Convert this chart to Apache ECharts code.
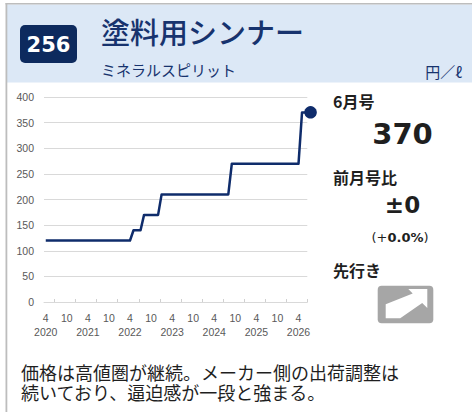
<!DOCTYPE html>
<html><head><meta charset="utf-8">
<script src="https://cdn.jsdelivr.net/npm/echarts@6/dist/echarts.min.js"></script>
<style>html,body{margin:0;padding:0;background:#fff;}#c{width:472px;height:412px;}</style>
</head><body><div id="c"></div>
<script>
// ---- data ----
const months = [
  '2020-04','2020-05','2020-06','2020-07','2020-08','2020-09','2020-10','2020-11','2020-12',
  '2021-01','2021-02','2021-03','2021-04','2021-05','2021-06','2021-07','2021-08','2021-09','2021-10','2021-11','2021-12',
  '2022-01','2022-02','2022-03','2022-04','2022-05','2022-06','2022-07','2022-08','2022-09','2022-10','2022-11','2022-12',
  '2023-01','2023-02','2023-03','2023-04','2023-05','2023-06','2023-07','2023-08','2023-09','2023-10','2023-11','2023-12',
  '2024-01','2024-02','2024-03','2024-04','2024-05','2024-06','2024-07','2024-08','2024-09','2024-10','2024-11','2024-12',
  '2025-01','2025-02','2025-03','2025-04','2025-05','2025-06','2025-07','2025-08','2025-09','2025-10','2025-11','2025-12',
  '2026-01','2026-02','2026-03','2026-04','2026-05','2026-06'
];
const prices = [
  120,120,120,120,120,120,120,120,120,
  120,120,120,120,120,120,120,120,120,120,120,120,
  120,120,120,120,140,140,140,170,170,170,170,170,
  210,210,210,210,210,210,210,210,210,210,210,210,
  210,210,210,210,210,210,210,210,270,270,270,270,
  270,270,270,270,270,270,270,270,270,270,270,270,
  270,270,270,270,370,370
];
const yTicks = [0,50,100,150,200,250,300,350,400];
const labelMonths = ['04','10'];
const tickMonths = ['01','07'];

const title = '塗料用シンナー';
const subtitle = 'ミネラルスピリット';
const badge = '256';
const unit = '円／ℓ';
const issueLabel = '6月号';
const issueValue = '370';
const diffLabel = '前月号比';
const diffValue = '±0';
const diffPctSign = '(+';
const diffPct = '0.0%';
const outlookLabel = '先行き';
const commentLines = ['価格は高値圏が継続。メーカー側の出荷調整は', '続いており、逼迫感が一段と強まる。'];

// ---- chart ----
const NAVY = '#0f2c6b';
const TXT = '#1f1f1f';
const CJK = '"Noto Sans CJK JP","Noto Sans",sans-serif';
const chart = echarts.init(document.getElementById('c'), null, {renderer: 'svg'});

const ox = 377.7, oy = 285.7; // icon origin
const arrowPts = [[8,18.5],[35,7.7],[30.6,3.3],[49.6,3.3],[49.6,22.3],[44.5,17.2],[22.5,32.6],[8,32.6]]
  .map(p => [ox + p[0], oy + p[1]]);

const option = {
  animation: false,
  backgroundColor: '#ffffff',
  grid: {left: 44, top: 97, width: 263.3, height: 205, containLabel: false},
  xAxis: {
    type: 'category',
    data: months,
    boundaryGap: true,
    axisLine: {show: true, lineStyle: {color: '#d9d9d9', width: 1}},
    axisTick: {
      show: true, inside: true, length: 3,
      lineStyle: {color: '#d0d0d0'},
      interval: (i, v) => tickMonths.indexOf(v.slice(5)) >= 0
    },
    axisLabel: {
      interval: (i, v) => labelMonths.indexOf(v.slice(5)) >= 0,
      formatter: v => {
        const m = String(parseInt(v.slice(5), 10));
        return v.slice(5) === labelMonths[0] ? m + '\n' + v.slice(0, 4) : m;
      },
      color: '#595959', fontSize: 10.5, fontFamily: '"Liberation Sans", Arial, sans-serif',
      lineHeight: 14, margin: 9, align: 'center', verticalAlign: 'top'
    },
    splitLine: {show: false}
  },
  yAxis: {
    type: 'value',
    min: yTicks[0], max: yTicks[yTicks.length - 1], interval: yTicks[1] - yTicks[0],
    axisLine: {show: false}, axisTick: {show: false},
    axisLabel: {color: '#595959', fontSize: 10.5, fontFamily: '"Liberation Sans", Arial, sans-serif', margin: 10},
    splitLine: {lineStyle: {color: '#d9d9d9', width: 1}}
  },
  series: [
    {
      type: 'line', data: prices, symbol: 'none', z: 3,
      lineStyle: {color: NAVY, width: 2.5, join: 'round'}
    },
    {
      type: 'scatter', z: 4, clip: false,
      data: [[months[months.length - 1], prices[prices.length - 1]]],
      symbol: 'circle', symbolSize: 12.5, symbolOffset: [5, 0],
      itemStyle: {color: NAVY, opacity: 1}
    }
  ],
  graphic: [
    // header background & borders
    {type: 'rect', silent: true, z: -10, shape: {x: 7, y: 4.5, width: 466, height: 78}, style: {fill: '#dce8f6'}},
    {type: 'rect', silent: true, z: -9, shape: {x: 5.5, y: 3, width: 467, height: 1.6}, style: {fill: '#bdbdbd'}},
    {type: 'rect', silent: true, z: -9, shape: {x: 5.5, y: 3, width: 1.8, height: 409}, style: {fill: '#bdbdbd'}},
    // badge
    {type: 'rect', silent: true, shape: {x: 20, y: 25, width: 57, height: 38, r: 5}, style: {fill: '#0d2a5e'}},
    {type: 'text', silent: true, style: {text: badge, x: 48.5, y: 44.5, align: 'center', verticalAlign: 'middle',
      fill: '#ffffff', font: 'bold 21px "DejaVu Sans", sans-serif'}},
    // titles
    {type: 'text', silent: true, style: {text: title, x: 101, y: 31, align: 'left', verticalAlign: 'middle',
      fill: '#17336e', font: '500 29px ' + CJK}},
    {type: 'text', silent: true, style: {text: subtitle, x: 101, y: 69, align: 'left', verticalAlign: 'middle',
      fill: '#17336e', font: '15px ' + CJK}},
    {type: 'text', silent: true, style: {text: unit, x: 462, y: 71, align: 'right', verticalAlign: 'middle',
      fill: '#17336e', font: '15px ' + CJK}},
    // right panel
    {type: 'text', silent: true, style: {text: issueLabel, x: 333, y: 101, align: 'left', verticalAlign: 'middle',
      fill: TXT, font: 'bold 16px ' + CJK}},
    {type: 'text', silent: true, style: {text: issueValue, x: 402.5, y: 134, align: 'center', verticalAlign: 'middle',
      fill: TXT, font: 'bold 29px "DejaVu Sans", sans-serif'}},
    {type: 'text', silent: true, style: {text: diffLabel, x: 333, y: 176.5, align: 'left', verticalAlign: 'middle',
      fill: TXT, font: 'bold 16px ' + CJK}},
    {type: 'text', silent: true, style: {text: diffValue, x: 402.5, y: 205, align: 'center', verticalAlign: 'middle',
      fill: TXT, font: 'bold 23px "DejaVu Sans", sans-serif'}},
    {type: 'text', silent: true, style: {
      text: '{r|' + diffPctSign + '}{b|' + diffPct + '}{r|)}', x: 400, y: 237.5, align: 'center', verticalAlign: 'middle',
      rich: {
        r: {fill: TXT, font: '13px "DejaVu Sans", sans-serif'},
        b: {fill: TXT, font: 'bold 13px "DejaVu Sans", sans-serif'}
      }}},
    {type: 'text', silent: true, style: {text: outlookLabel, x: 333, y: 270, align: 'left', verticalAlign: 'middle',
      fill: TXT, font: 'bold 16px ' + CJK}},
    {type: 'rect', silent: true, shape: {x: ox, y: oy, width: 55.6, height: 37.6, r: 4}, style: {fill: '#a6a6a6'}},
    {type: 'polygon', silent: true, shape: {points: arrowPts}, style: {fill: '#ffffff'}},
    // comment
    {type: 'text', silent: true, style: {text: commentLines.join('\n'), x: 21, y: 381.5, align: 'left', verticalAlign: 'middle',
      lineHeight: 20, fill: TXT, font: '18px ' + CJK}}
  ]
};
chart.setOption(option);
</script>
</body></html>
